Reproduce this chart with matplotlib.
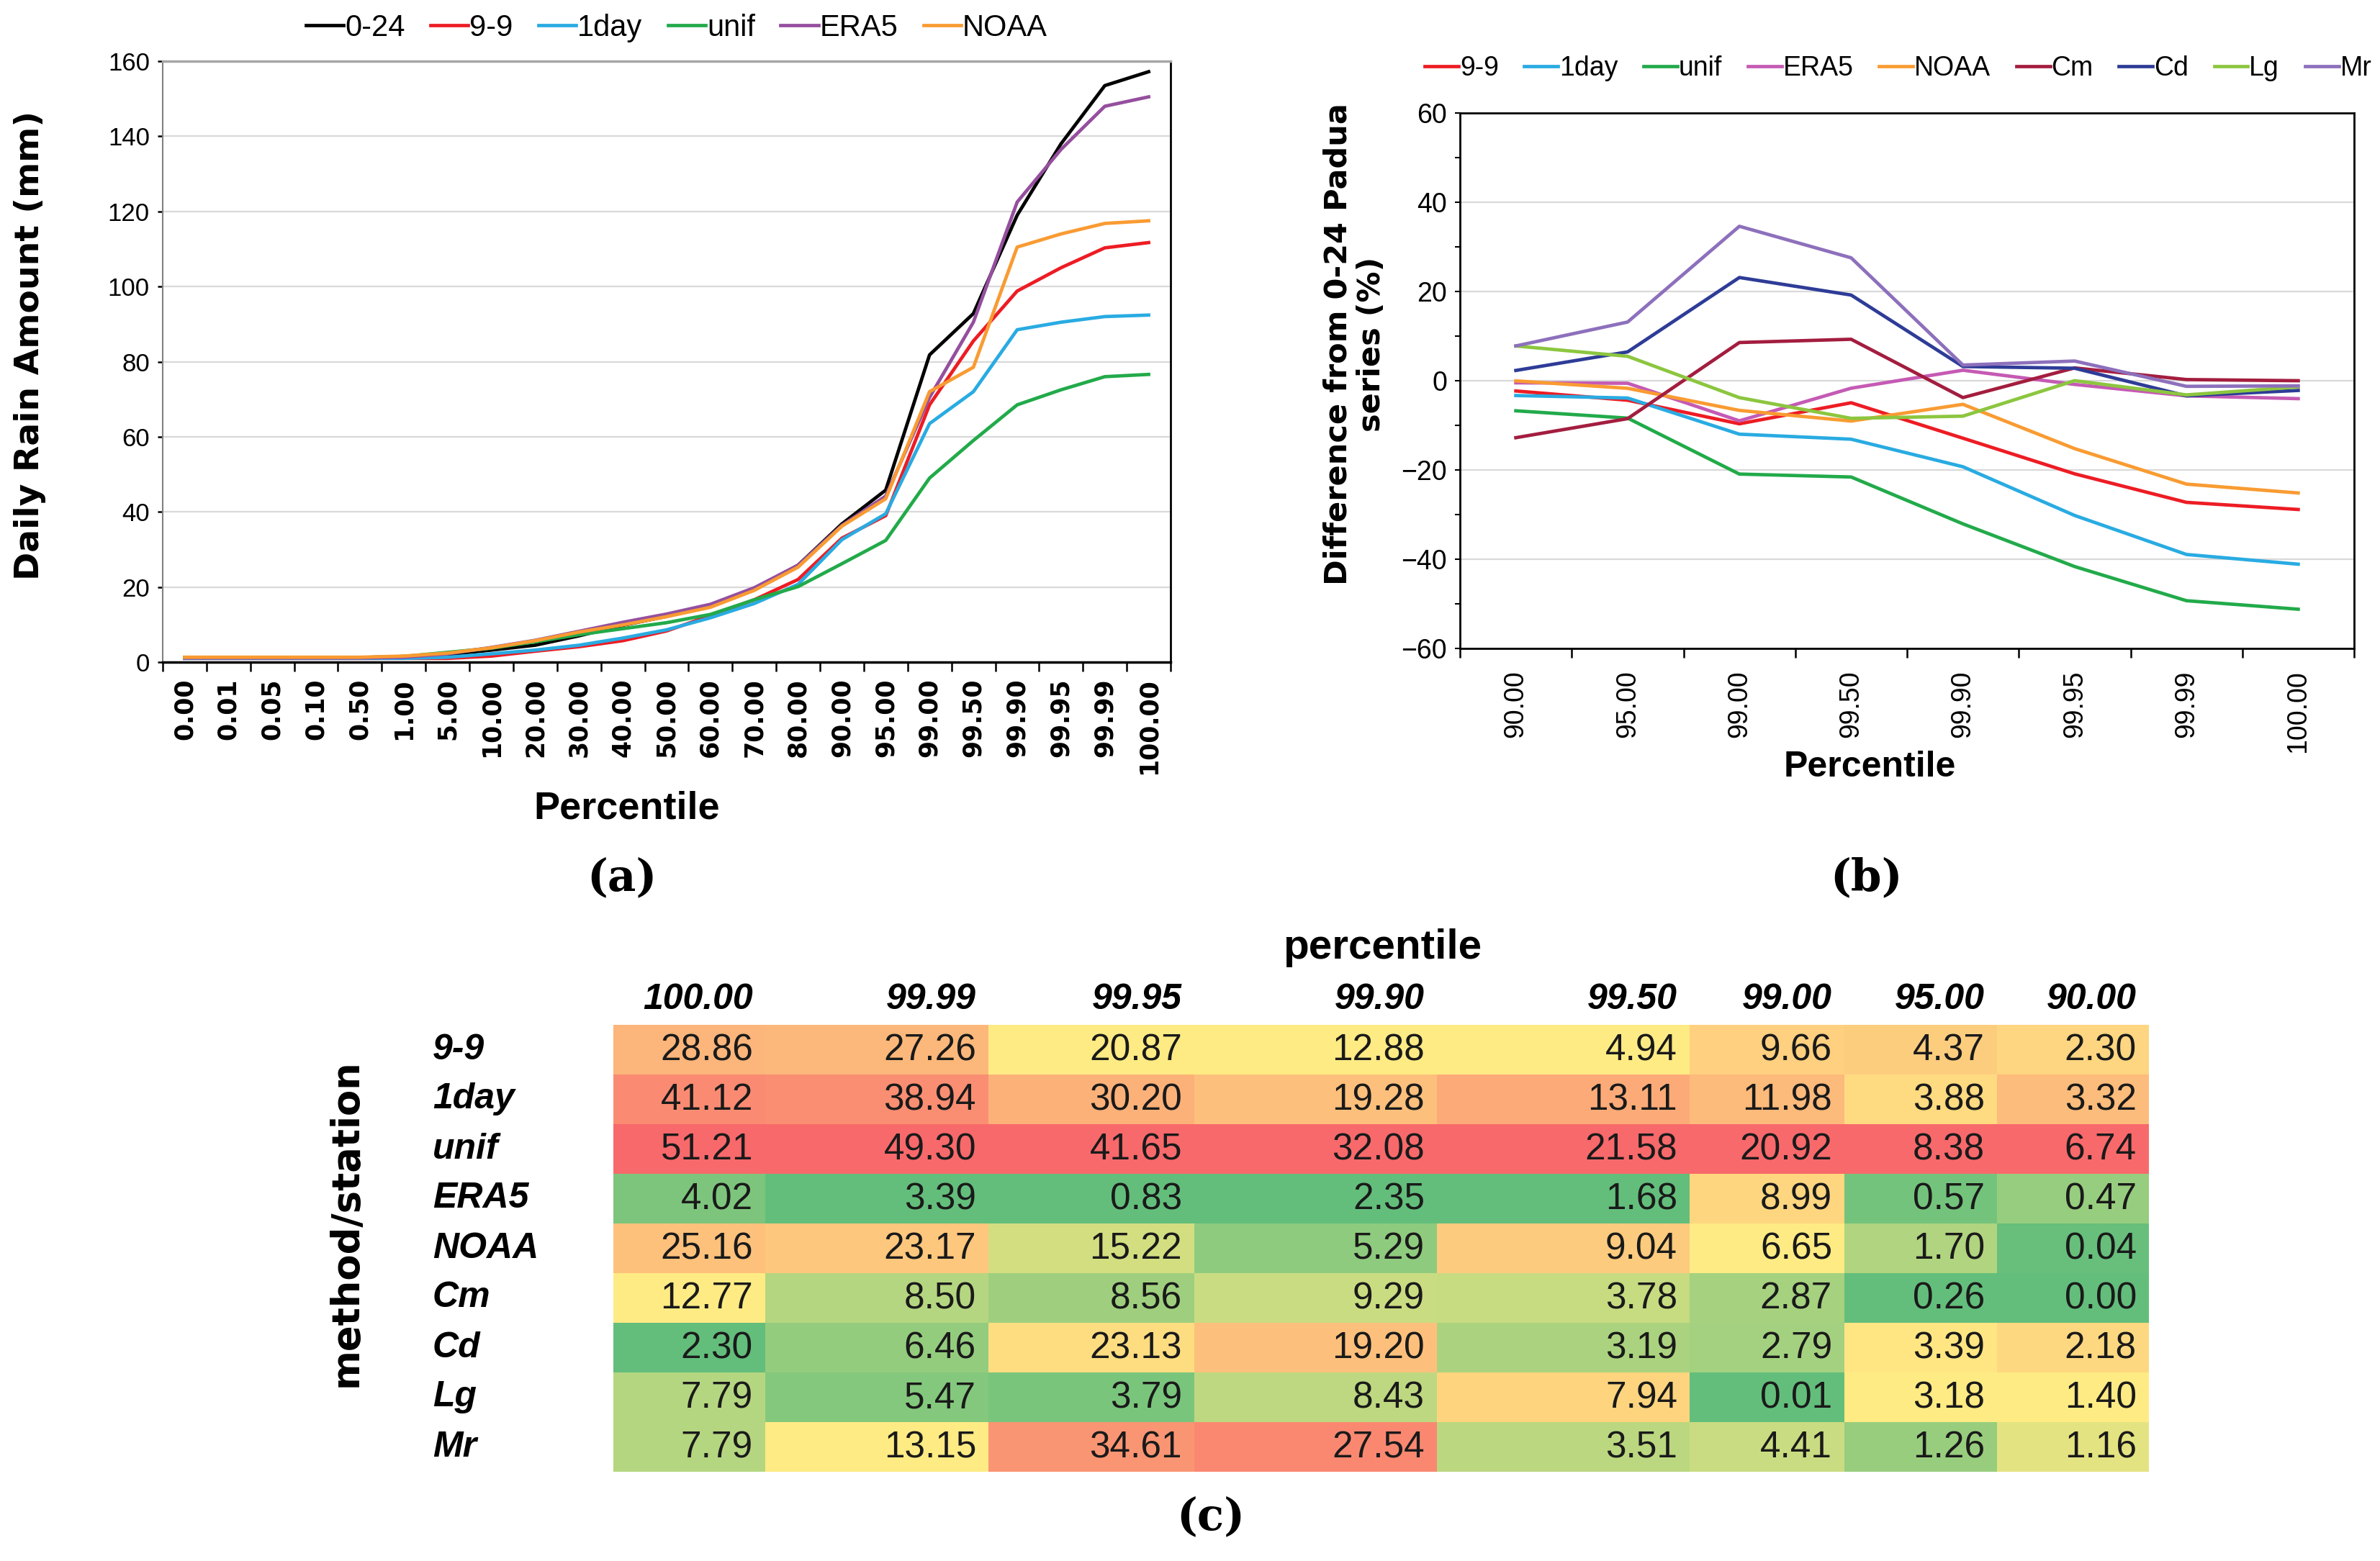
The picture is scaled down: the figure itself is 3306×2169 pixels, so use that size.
import numpy as np
import matplotlib.pyplot as plt

# (a) valori giornalieri per percentile (mm)
percentili = ['0.00', '0.01', '0.05', '0.10', '0.50', '1.00', '5.00', '10.00', '20.00',
              '30.00', '40.00', '50.00', '60.00', '70.00', '80.00', '90.00', '95.00',
              '99.00', '99.50', '99.90', '99.95', '99.99', '100.00']
s_024 = [1.2, 1.2, 1.2, 1.2, 1.2, 1.5, 2.0, 3.2, 4.5, 7.0, 9.8, 12.2, 15.0, 19.5, 25.8,
         36.8, 45.8, 81.8, 92.8, 119.0, 138.0, 153.5, 157.2]
s_99 = [1.0, 1.0, 1.0, 1.0, 1.0, 1.0, 1.0, 1.6, 2.9, 4.1, 5.7, 8.3, 12.4, 16.6, 22.0,
        33.0, 39.0, 68.5, 85.5, 98.8, 105.0, 110.3, 111.7]
s_1day = [1.0, 1.0, 1.0, 1.0, 1.0, 1.0, 1.3, 2.2, 3.2, 4.5, 6.4, 8.6, 11.8, 15.6, 20.7,
          32.6, 39.5, 63.5, 72.0, 88.5, 90.5, 92.0, 92.4]
s_unif = [1.2, 1.2, 1.2, 1.2, 1.2, 1.5, 2.6, 3.7, 5.4, 7.3, 8.9, 10.5, 12.7, 16.6, 20.1,
          26.2, 32.4, 49.0, 59.0, 68.5, 72.5, 76.0, 76.6]
s_era5 = [1.1, 1.1, 1.1, 1.1, 1.1, 1.3, 2.2, 3.9, 5.8, 8.2, 10.6, 12.8, 15.4, 19.8, 25.8,
          36.4, 44.2, 70.5, 90.5, 122.5, 136.5, 148.0, 150.5]
s_noaa = [1.3, 1.3, 1.3, 1.3, 1.3, 1.6, 2.4, 3.8, 5.7, 8.0, 9.9, 12.1, 14.6, 19.1, 25.3,
          36.2, 43.5, 72.0, 78.5, 110.5, 114.0, 116.8, 117.5]

# (b) differenza percentuale dalla serie 0-24
perc_b = ['90.00', '95.00', '99.00', '99.50', '99.90', '99.95', '99.99', '100.00']
d_99 = [-2.30, -4.37, -9.66, -4.94, -12.88, -20.87, -27.26, -28.86]
d_1day = [-3.32, -3.88, -11.98, -13.11, -19.28, -30.20, -38.94, -41.12]
d_unif = [-6.74, -8.38, -20.92, -21.58, -32.08, -41.65, -49.30, -51.21]
d_era5 = [-0.47, -0.57, -8.99, -1.68, 2.35, -0.83, -3.39, -4.02]
d_noaa = [-0.04, -1.70, -6.65, -9.04, -5.29, -15.22, -23.17, -25.16]
d_cm = [-12.77, -8.50, 8.56, 9.29, -3.78, 2.87, 0.26, 0.00]
d_cd = [2.30, 6.46, 23.13, 19.20, 3.19, 2.79, -3.39, -2.18]
d_lg = [7.79, 5.47, -3.79, -8.43, -7.94, 0.01, -3.18, -1.40]
d_mr = [7.79, 13.15, 34.61, 27.54, 3.51, 4.41, -1.26, -1.16]

# (c) tabella
col_c = ['100.00', '99.99', '99.95', '99.90', '99.50', '99.00', '95.00', '90.00']
righe_c = ['9-9', '1day', 'unif', 'ERA5', 'NOAA', 'Cm', 'Cd', 'Lg', 'Mr']
t_99 = [28.86, 27.26, 20.87, 12.88, 4.94, 9.66, 4.37, 2.30]
t_1day = [41.12, 38.94, 30.20, 19.28, 13.11, 11.98, 3.88, 3.32]
t_unif = [51.21, 49.30, 41.65, 32.08, 21.58, 20.92, 8.38, 6.74]
t_era5 = [4.02, 3.39, 0.83, 2.35, 1.68, 8.99, 0.57, 0.47]
t_noaa = [25.16, 23.17, 15.22, 5.29, 9.04, 6.65, 1.70, 0.04]
t_cm = [12.77, 8.50, 8.56, 9.29, 3.78, 2.87, 0.26, 0.00]
t_cd = [2.30, 6.46, 23.13, 19.20, 3.19, 2.79, 3.39, 2.18]
t_lg = [7.79, 5.47, 3.79, 8.43, 7.94, 0.01, 3.18, 1.40]
t_mr = [7.79, 13.15, 34.61, 27.54, 3.51, 4.41, 1.26, 1.16]

# larghezze delle colonne della tabella (pixel)
larg_col = [211, 310, 286, 337, 351, 215, 212, 211]

W, H = 3306, 2169
fig = plt.figure(figsize=(W / 100, H / 100), dpi=100)

ARIAL = ['Liberation Sans', 'DejaVu Sans']
VERD = ['DejaVu Sans']
SERIF = ['DejaVu Serif']
GRID = '#D9D9D9'


def fx(px):
    return px / W


def fy(py):
    return 1 - py / H


# ---------------- (a) ----------------
ax1 = fig.add_axes([fx(226), fy(920), fx(1400), (920 - 85) / H])
x1 = np.arange(len(percentili))
serie_a = [('0-24', s_024, '#000000'), ('9-9', s_99, '#ED1C24'),
           ('1day', s_1day, '#29ABE2'), ('unif', s_unif, '#22AA4A'),
           ('ERA5', s_era5, '#954F9E'), ('NOAA', s_noaa, '#F99B32')]
for nome, v, c in serie_a:
    ax1.plot(x1, v, color=c, lw=3.4, label=nome)
ax1.set_xlim(-0.5, len(percentili) - 0.5)
ax1.set_ylim(0, 160)
ax1.set_yticks(np.arange(0, 161, 20))
ax1.yaxis.grid(True, color=GRID, lw=1.6)
ax1.set_axisbelow(True)
ax1.set_xticks(x1)
ax1.set_xticklabels(percentili, rotation=90, family=VERD, fontweight='bold', fontsize=25)
ax1.set_xticks(np.arange(-0.5, len(percentili)), minor=True)
ax1.tick_params(axis='x', which='major', length=0, pad=16)
ax1.tick_params(axis='x', which='minor', length=9, width=1.8, direction='out')
ax1.tick_params(axis='y', length=5, width=1.8, direction='out', labelsize=25, pad=8)
for lab in ax1.get_yticklabels():
    lab.set_family(ARIAL)
ax1.spines['top'].set_color('#A6A6A6')
ax1.spines['top'].set_linewidth(2.5)
ax1.spines['left'].set_color('#808080')
ax1.spines['left'].set_linewidth(1.5)
ax1.spines['right'].set_linewidth(2.0)
ax1.spines['bottom'].set_linewidth(2.5)
ax1.legend(loc='center', bbox_to_anchor=(0.51, 1.055), ncol=6, frameon=False,
           prop={'family': ARIAL, 'size': 30}, handlelength=1.25, handletextpad=0.05,
           columnspacing=0.85, borderaxespad=0)
fig.text(fx(42), fy(480), 'Daily Rain Amount (mm)', rotation=90, ha='center', va='center',
         family=VERD, fontweight='bold', fontsize=34)
fig.text(fx(871), fy(1124), 'Percentile', ha='center', va='center',
         family=ARIAL, fontweight='bold', fontsize=39)
fig.text(fx(864), fy(1220), '(a)', ha='center', va='center', family=SERIF,
         fontweight='bold', fontsize=44)

# ---------------- (b) ----------------
ax2 = fig.add_axes([fx(2028), fy(901), fx(1242), (901 - 157) / H])
x2 = np.arange(len(perc_b))
serie_b = [('9-9', d_99, '#ED1C24'), ('1day', d_1day, '#29ABE2'),
           ('unif', d_unif, '#22AA4A'), ('ERA5', d_era5, '#C55AB4'),
           ('NOAA', d_noaa, '#F99B32'), ('Cm', d_cm, '#A31D3F'),
           ('Cd', d_cd, '#2E3C97'), ('Lg', d_lg, '#8CC63F'), ('Mr', d_mr, '#8D70BC')]
for nome, v, c in serie_b:
    ax2.plot(x2, v, color=c, lw=3.4, label=nome)
ax2.set_xlim(-0.5, len(perc_b) - 0.5)
ax2.set_ylim(-60, 60)
ax2.set_yticks(np.arange(-60, 61, 20))
ax2.set_yticks(np.arange(-50, 60, 20), minor=True)
ax2.yaxis.grid(True, which='major', color=GRID, lw=1.6)
ax2.set_axisbelow(True)
ax2.set_xticks(x2)
ax2.set_xticklabels(perc_b, rotation=90, family=ARIAL, fontsize=27)
ax2.set_xticks(np.arange(-0.5, len(perc_b)), minor=True)
ax2.tick_params(axis='x', which='major', length=0, pad=22)
ax2.tick_params(axis='x', which='minor', length=9, width=1.8, direction='out')
ax2.tick_params(axis='y', which='both', length=5, width=1.5, direction='out',
                labelsize=27, pad=8)
for lab in ax2.get_yticklabels():
    lab.set_family(ARIAL)
for s in ax2.spines.values():
    s.set_linewidth(2.0)
ax2.legend(loc='center', bbox_to_anchor=(0.49, 1.083), ncol=9, frameon=False,
           prop={'family': ARIAL, 'size': 27}, handlelength=1.25, handletextpad=0.05,
           columnspacing=0.95, borderaxespad=0)
fig.text(fx(1882), fy(478), 'Difference from 0-24 Padua\nseries (%)', rotation=90,
         ha='center', va='center', multialignment='center', linespacing=1.15,
         family=VERD, fontweight='bold', fontsize=31)
fig.text(fx(2597), fy(1066), 'Percentile', ha='center', va='center',
         family=ARIAL, fontweight='bold', fontsize=36)
fig.text(fx(2593), fy(1220), '(b)', ha='center', va='center', family=SERIF,
         fontweight='bold', fontsize=44)

# ---------------- (c) ----------------
tab = np.array([t_99, t_1day, t_unif, t_era5, t_noaa, t_cm, t_cd, t_lg, t_mr])
verde = np.array([99, 190, 123]) / 255
giallo = np.array([255, 235, 132]) / 255
rosso = np.array([248, 105, 107]) / 255
colori = np.zeros(tab.shape + (3,))
for j in range(tab.shape[1]):
    col = tab[:, j]
    lo, med, hi = col.min(), np.median(col), col.max()
    for i, v in enumerate(col):
        if v <= med:
            t = (v - lo) / (med - lo) if med > lo else 0
            colori[i, j] = verde + t * (giallo - verde)
        else:
            t = (v - med) / (hi - med)
            colori[i, j] = giallo + t * (rosso - giallo)

bordi_x = np.concatenate([[0], np.cumsum(larg_col)])
bordi_y = np.arange(len(righe_c) + 1)
ax3 = fig.add_axes([fx(852), fy(2045), fx(bordi_x[-1]), (2045 - 1424) / H])
ax3.pcolormesh(bordi_x, bordi_y, colori, edgecolors='none')
ax3.set_xlim(0, bordi_x[-1])
ax3.set_ylim(len(righe_c), 0)
ax3.axis('off')

pad = 17
for j, nome in enumerate(col_c):
    ax3.text(bordi_x[j + 1] - pad, -0.5, nome, ha='right', va='center', family=ARIAL,
             fontweight='bold', fontstyle='italic', fontsize=36, clip_on=False)
for i, nome in enumerate(righe_c):
    ax3.text(-251, i + 0.5, nome, ha='left', va='center', family=ARIAL,
             fontweight='bold', fontstyle='italic', fontsize=36, clip_on=False)
    for j in range(len(col_c)):
        ax3.text(bordi_x[j + 1] - pad, i + 0.52, f'{tab[i, j]:.2f}', ha='right',
                 va='center', family=ARIAL, fontsize=37, color='#1A1A1A')

fig.text(fx(1920), fy(1317), 'percentile', ha='center', va='center', family=ARIAL,
         fontweight='bold', fontsize=42)
fig.text(fx(481), fy(1699), 'method/station', rotation=90, ha='center', va='center',
         family=VERD, fontweight='bold', fontsize=38)
fig.text(fx(1682), fy(2108), '(c)', ha='center', va='center', family=SERIF,
         fontweight='bold', fontsize=44)

fig.savefig('out.png', dpi=100, facecolor='white')
